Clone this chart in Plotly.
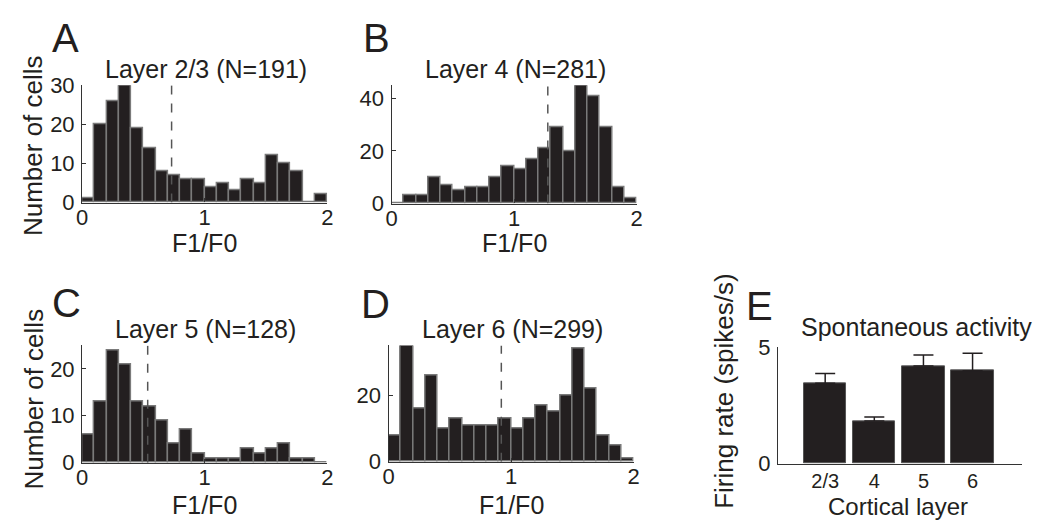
import plotly.graph_objects as go

# F1/F0 histograms, 20 bins of width 0.1 from 0 to 2
bin_centers = [round(0.05 + 0.1 * i, 2) for i in range(20)]

counts_l23 = [1, 20, 26, 30, 19, 14, 8, 7, 6, 6, 4, 5, 3, 6, 5, 12, 10, 8, 0, 2]
counts_l4 = [0, 3, 3, 10, 7, 5, 6, 6, 10, 14, 13, 17, 21, 29, 20, 45, 41, 29, 6, 2]
counts_l5 = [6, 13, 24, 21, 13, 12, 9, 4, 7, 2, 1, 1, 1, 3, 2, 3, 4, 1, 1, 0]
counts_l6 = [8, 35, 16, 26, 10, 13, 11, 11, 11, 13, 10, 13, 17, 15, 20, 34, 22, 8, 5, 1]

medians = [0.73, 1.275, 0.535, 0.92]
titles = ["Layer 2/3 (N=191)", "Layer 4 (N=281)", "Layer 5 (N=128)", "Layer 6 (N=299)"]
panel_letters = ["A", "B", "C", "D"]
y_max = [30, 45, 25, 35]
y_ticks = [[0, 10, 20, 30], [0, 20, 40], [0, 10, 20], [0, 20]]
x_ticks = [0, 1, 2]

# Spontaneous activity by cortical layer
layers = ["2/3", "4", "5", "6"]
rate_mean = [3.46, 1.83, 4.2, 3.99]
rate_upper = [3.88, 2.0, 4.67, 4.75]

W, H = 1044, 529
INK = "#231f20"
BAR_EDGE = "#7a7a7a"
FONT = "Liberation Sans, Arial, Helvetica, sans-serif"

# axis boxes in pixels: (left, right, top, bottom)
boxes = [
    (77, 325, 77, 200),
    (390, 638, 77, 201),
    (77, 325, 350, 473),
    (387, 635, 350, 472),
    (781, 1028, 352, 474),
]


def xd(px):
    return px / W


def yd(px):
    return 1 - px / H


fig = go.Figure()

hist_counts = [counts_l23, counts_l4, counts_l5, counts_l6]
for i, counts in enumerate(hist_counts):
    ax = "" if i == 0 else str(i + 1)
    fig.add_trace(go.Bar(
        x=bin_centers, y=counts, width=0.1,
        marker=dict(color=INK, line=dict(color=BAR_EDGE, width=1.5)),
        xaxis="x" + ax, yaxis="y" + ax, showlegend=False,
    ))
    fig.add_trace(go.Scatter(
        x=[medians[i], medians[i]], y=[0, y_max[i]], mode="lines",
        line=dict(color="#555555", width=1.5, dash="dash"),
        xaxis="x" + ax, yaxis="y" + ax, showlegend=False,
    ))

fig.add_trace(go.Bar(
    x=[1, 2, 3, 4], y=rate_mean, width=0.86,
    marker=dict(color=INK, line=dict(color="#555555", width=1)),
    error_y=dict(type="data", symmetric=False,
                 array=[u - m for u, m in zip(rate_upper, rate_mean)],
                 arrayminus=[0, 0, 0, 0], color=INK, thickness=1.5, width=10),
    xaxis="x5", yaxis="y5", showlegend=False,
))

axis_common = dict(
    showline=True, linecolor="#333333", linewidth=1.2, mirror=False,
    showgrid=False, zeroline=False, ticks="inside", ticklen=4,
    tickcolor="#333333", tickfont=dict(family=FONT, size=22, color=INK),
    fixedrange=True,
)

layout = dict(
    width=W, height=H, margin=dict(l=0, r=0, t=0, b=0),
    paper_bgcolor="white", plot_bgcolor="white", bargap=0,
    font=dict(family=FONT, color=INK),
)

for i, (l, r, t, b) in enumerate(boxes):
    ax = "" if i == 0 else str(i + 1)
    xa = dict(axis_common, domain=[xd(l), xd(r)], anchor="y" + ax)
    ya = dict(axis_common, domain=[yd(b), yd(t)], anchor="x" + ax, ticklabelstandoff=2)
    if i < 4:
        xa.update(range=[0, 2], tickvals=x_ticks, ticklabelstandoff=-5)
        ya.update(range=[0, y_max[i]], tickvals=y_ticks[i])
    else:
        xa.update(range=[0.04, 5.01], tickvals=[1, 2, 3, 4], ticktext=layers,
                  ticks="", ticklabelstandoff=-1, tickfont=dict(family=FONT, size=20, color=INK))
        ya.update(range=[0, 5], tickvals=[0, 5])
    layout["xaxis" + ax] = xa
    layout["yaxis" + ax] = ya

fig.update_layout(**layout)

annotations = []


def text(x, y, s, size, angle=0, xanchor="center"):
    annotations.append(dict(
        x=xd(x), y=yd(y), xref="paper", yref="paper", text=s, showarrow=False,
        xanchor=xanchor, yanchor="middle", textangle=angle,
        font=dict(family=FONT, size=size, color=INK),
    ))


# panel letters
text(45, 27, "A", 40, xanchor="left")
text(359, 27, "B", 40, xanchor="left")
text(45, 305, "C", 40, xanchor="left")
text(357, 306, "D", 40, xanchor="left")
text(747, 309, "E", 40, xanchor="left")

# panel titles
for i, (l, r, t, b) in enumerate(boxes[:4]):
    text((l + r) / 2 + 1, t - 17, titles[i], 25)
text(921, 331, "Spontaneous activity", 25)

# axis titles
text((77 + 325) / 2, 242, "F1/F0", 25)
text((390 + 638) / 2, 242, "F1/F0", 25)
text((77 + 325) / 2, 517, "F1/F0", 25)
text((387 + 635) / 2, 517, "F1/F0", 25)
text(28, 140, "Number of cells", 26, angle=-90)
text(28, 406, "Number of cells", 26, angle=-90)
text(727, 398, "Firing rate (spikes/s)", 26, angle=-90)
text(902, 519, "Cortical layer", 24)

fig.update_layout(annotations=annotations)

fig.write_html("out.html")
